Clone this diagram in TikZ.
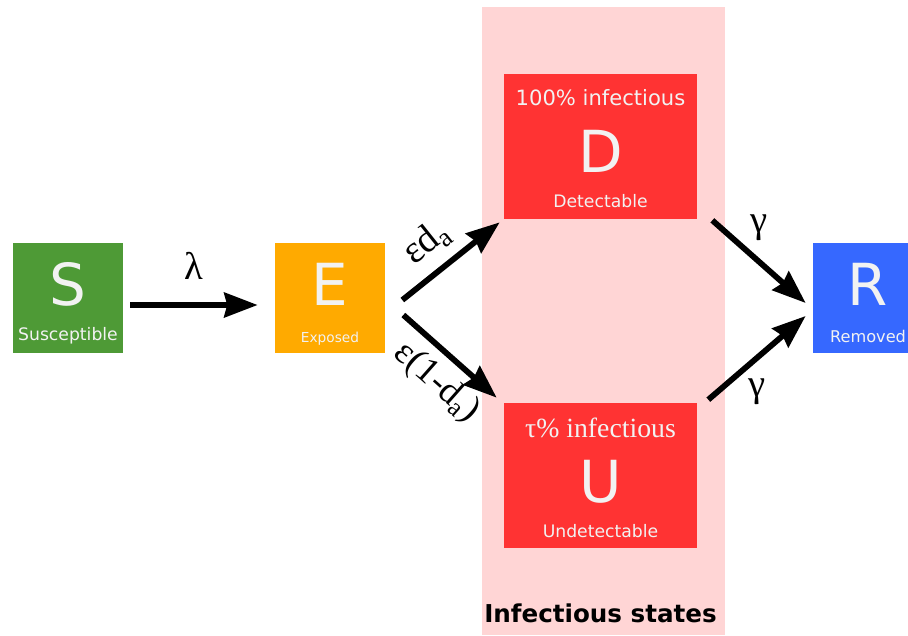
\documentclass[tikz,border=0pt]{standalone}
\usepackage{fontspec}
\setmainfont{DejaVu Sans}
\newfontfamily\greekfont{Liberation Serif}
\usepackage{xcolor}
\usetikzlibrary{arrows.meta, positioning, calc}

\definecolor{susgreen}{HTML}{4E9A36}
\definecolor{expamber}{HTML}{FFAA00}
\definecolor{infred}{HTML}{FF3333}
\definecolor{remblue}{HTML}{3668FF}
\definecolor{infpink}{HTML}{FFD5D5}
\definecolor{boxtext}{HTML}{F2F2F2}

\tikzset{
    state/.style={rectangle, inner sep=0pt, minimum width=2.2cm, minimum height=2.2cm},
    infstate/.style={state, fill=infred, minimum width=3.86cm, minimum height=2.9cm},
    letter/.style={anchor=base, inner sep=0pt, text=boxtext, font=\fontsize{33}{33}\selectfont},
    caption/.style={anchor=base, inner sep=0pt, text=boxtext, font=\fontsize{9.8}{10}\selectfont},
    flow/.style={line width=3.3pt, -{Stealth[length=19pt, width=14pt, inset=1.7pt]}},
    rate/.style={inner sep=0pt, font=\greekfont\fontsize{22}{22}\selectfont}
}

\begin{document}
\begin{tikzpicture}[x=0.02cm, y=-0.02cm]
    \useasboundingbox (0,0) rectangle (908,635);

    \node[fill=infpink, inner sep=0pt, minimum width=4.86cm, minimum height=12.56cm] (zone) at (603.5,321) {};
    \node[anchor=base, inner sep=0pt, font=\bfseries\fontsize{14}{14}\selectfont] (zonelabel)
        at ([shift={(-3,-13)}]zone.south) {Infectious states};

    \node[state, fill=susgreen] (S) at (68,298) {};
    \node[state, fill=expamber] (E) at (330,298) {};
    \node[state, fill=remblue] (R) at (868,298) {};
    \node[infstate] (D) at (600.5,146.5) {};
    \node[infstate] (U) at (600.5,475.5) {};

    \node[letter] (Sl) at ([shift={(0,7)}]S.center) {S};
    \node[caption] (Sc) at ([shift={(0,42)}]S.center) {Susceptible};
    \node[letter] (El) at ([shift={(0,7)}]E.center) {E};
    \node[caption, font=\fontsize{7.8}{8}\selectfont] (Ec) at ([shift={(0,44)}]E.center) {Exposed};
    \node[letter] (Rl) at ([shift={(0,7)}]R.center) {R};
    \node[caption, font=\fontsize{9.2}{10}\selectfont] (Rc) at ([shift={(0,44)}]R.center) {Removed};

    \node[caption, font=\fontsize{12}{12}\selectfont] (Dt) at ([shift={(0,-41.5)}]D.center) {100\% infectious};
    \node[letter] (Dl) at ([shift={(0,25.5)}]D.center) {D};
    \node[caption] (Dc) at ([shift={(0,60.5)}]D.center) {Detectable};
    \node[caption, font=\greekfont\fontsize{15.8}{16}\selectfont] (Ut) at ([shift={(0,-38.5)}]U.center) {τ\% infectious};
    \node[letter] (Ul) at ([shift={(0,26.5)}]U.center) {U};
    \node[caption] (Uc) at ([shift={(0,61.5)}]U.center) {Undetectable};

    \draw[flow] ([shift={(7,7)}]S.east) -- ([shift={(-17,7)}]E.west)
        node[rate, midway, above=13pt] {λ};
    \draw[flow] ([shift={(17,2)}]E.east) -- ([shift={(-4,3)}]D.south west)
        node[rate, pos=0.44, sloped, above=6pt, font=\greekfont\fontsize{22}{22}\selectfont] {εd\textsubscript{a}};
    \draw[flow] ([shift={(18,17)}]E.east) -- ([shift={(-7,-5)}]U.north west)
        node[rate, pos=0.56, sloped, below=5pt, font=\greekfont\fontsize{21}{21}\selectfont] {ε(1-d\textsubscript{a})};
    \draw[flow] ([shift={(15,1)}]D.south east) -- ([shift={(-7,5)}]R.west)
        node[rate, midway, above=10pt] {γ};
    \draw[flow] ([shift={(11,-3)}]U.north east) -- ([shift={(-7,18)}]R.west)
        node[rate, midway, below=10pt] {γ};
\end{tikzpicture}
\end{document}
